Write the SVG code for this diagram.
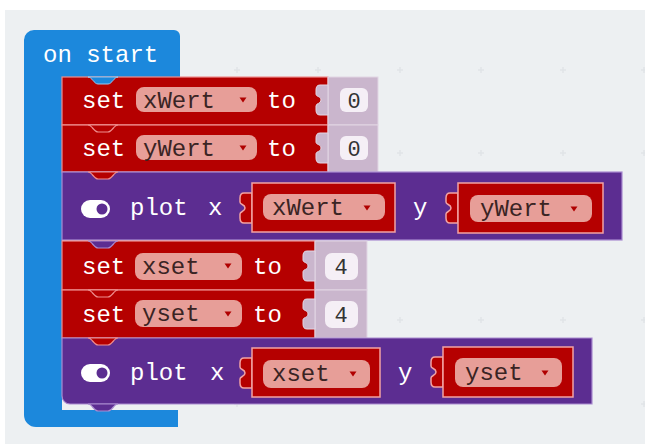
<svg xmlns="http://www.w3.org/2000/svg" width="645" height="444" viewBox="0 0 645 444">
<style>
.t{font-family:"Liberation Mono","DejaVu Sans Mono",monospace;font-size:24px;fill:#ffffff}
.d{font-family:"Liberation Mono","DejaVu Sans Mono",monospace;font-size:24px;fill:#3a2424}
.n{font-family:"Liberation Mono","DejaVu Sans Mono",monospace;font-size:22px;fill:#333333;text-anchor:middle}
.red{fill:#b50000;stroke:#ef8f8f;stroke-width:1.2}
.pur{fill:#5c2d91;stroke:#a98bd0;stroke-width:1.2}
.lav{fill:#cab6cd;stroke:#e2d6e4;stroke-width:1}
.fld{fill:#f5eff6}
.pill{fill:#e79e98}
.slot{fill:#b50000;stroke:#f2a3a3;stroke-width:1.5}
.tri{fill:#b00000}
.cross{stroke:#e0e4e7;stroke-width:1.5}
</style>
<defs>
<path id="tab" d="M0,0 h-8 c-3,0 -4,2 -4,5 v4 c0,3 5,2 5,6 s-5,3 -5,6 v4 c0,3 1,5 4,5 h8 z"/>
<path id="notch" d="M0,0 c4,0 6,7 10,7 h10 c4,0 6,-7 10,-7 z"/>
<path id="tr" d="M-3.5,-2.5 h7 l-3.5,5 z"/>
<g id="cr"><line x1="-3" y1="0" x2="3" y2="0"/><line x1="0" y1="-3" x2="0" y2="3"/></g>
</defs>
<rect x="5" y="10" width="640" height="434" fill="#edf0f2"/>
<g class="cross">
<use href="#cr" x="237" y="70"/><use href="#cr" x="318" y="70"/><use href="#cr" x="400" y="70"/><use href="#cr" x="481" y="70"/><use href="#cr" x="563" y="70"/><use href="#cr" x="644" y="70"/>
<use href="#cr" x="400" y="153"/><use href="#cr" x="481" y="153"/><use href="#cr" x="563" y="153"/><use href="#cr" x="644" y="153"/>
<use href="#cr" x="400" y="320"/><use href="#cr" x="481" y="320"/><use href="#cr" x="563" y="320"/><use href="#cr" x="644" y="320"/>
<use href="#cr" x="237" y="404"/><use href="#cr" x="644" y="404"/>
</g>
<g id="onstart">
<path d="M24,40 a10,10 0 0 1 10,-10 H174 a6,6 0 0 1 6,6 V77 H62 V410 H178 V427 H36 a12,12 0 0 1 -12,-12 Z" fill="#1c88dc"/>
<text class="t" x="43" y="62">on start</text>
</g>
<g id="setxWert">
<rect class="red" x="62" y="77" width="266" height="48"/>
<rect class="lav" x="328" y="77" width="50" height="48"/>
<use href="#tab" x="328" y="85" class="lav"/>
<rect class="fld" x="340" y="88" width="28" height="24" rx="6"/>
<text class="n" x="354" y="108">0</text>
<text class="t" x="82" y="108">set</text>
<rect class="pill" x="136" y="87" width="121" height="25" rx="8"/>
<text class="d" x="143" y="108">xWert</text>
<use href="#tr" class="tri" x="243" y="100"/>
<text class="t" x="267" y="108">to</text>
</g>
<g id="setyWert">
<rect class="red" x="62" y="125" width="266" height="47"/>
<rect class="lav" x="328" y="125" width="50" height="47"/>
<use href="#tab" x="328" y="133" class="lav"/>
<rect class="fld" x="340" y="136" width="28" height="24" rx="6"/>
<text class="n" x="354" y="156">0</text>
<text class="t" x="82" y="156">set</text>
<rect class="pill" x="136" y="135" width="121" height="25" rx="8"/>
<text class="d" x="143" y="156">yWert</text>
<use href="#tr" class="tri" x="243" y="148"/>
<text class="t" x="267" y="156">to</text>
</g>
<g id="plot1">
<rect class="pur" x="62" y="172" width="560" height="68"/>
<rect x="81" y="200" width="29" height="18" rx="9" fill="#ffffff"/>
<circle cx="102" cy="209" r="5.5" fill="#5c2d91"/>
<text class="t" x="130" y="215">plot</text>
<text class="t" x="208" y="215">x</text>
<use href="#tab" x="252" y="193" class="slot"/>
<rect class="slot" x="252" y="183" width="143" height="49"/>
<rect class="pill" x="263" y="194" width="122" height="26" rx="8"/>
<text class="d" x="272" y="215">xWert</text>
<use href="#tr" class="tri" x="367" y="208"/>
<text class="t" x="413" y="215">y</text>
<use href="#tab" x="458" y="193" class="slot"/>
<rect class="slot" x="458" y="183" width="145" height="50"/>
<rect class="pill" x="470" y="195" width="122" height="27" rx="8"/>
<text class="d" x="480" y="216">yWert</text>
<use href="#tr" class="tri" x="574" y="209"/>
</g>
<g id="setxset">
<rect class="red" x="62" y="241" width="253" height="49"/>
<rect class="lav" x="315" y="241" width="52" height="49"/>
<use href="#tab" x="315" y="251" class="lav"/>
<rect class="fld" x="325" y="253" width="33" height="27" rx="7"/>
<text class="n" x="341" y="274">4</text>
<text class="t" x="82" y="274">set</text>
<rect class="pill" x="135" y="253" width="107" height="27" rx="8"/>
<text class="d" x="142" y="274">xset</text>
<use href="#tr" class="tri" x="228" y="266"/>
<text class="t" x="253" y="274">to</text>
</g>
<g id="setyset">
<rect class="red" x="62" y="290" width="253" height="48"/>
<rect class="lav" x="315" y="290" width="52" height="48"/>
<use href="#tab" x="315" y="299" class="lav"/>
<rect class="fld" x="325" y="301" width="33" height="27" rx="7"/>
<text class="n" x="341" y="322">4</text>
<text class="t" x="82" y="322">set</text>
<rect class="pill" x="135" y="300" width="107" height="27" rx="8"/>
<text class="d" x="142" y="321">yset</text>
<use href="#tr" class="tri" x="228" y="314"/>
<text class="t" x="253" y="322">to</text>
</g>
<g id="plot2">
<path class="pur" d="M62,338 H592 V404 H70 a8,8 0 0 1 -8,-8 Z"/>
<rect x="81" y="364" width="29" height="18" rx="9" fill="#ffffff"/>
<circle cx="102" cy="373" r="5.5" fill="#5c2d91"/>
<text class="t" x="130" y="380">plot</text>
<text class="t" x="210" y="380">x</text>
<use href="#tab" x="252" y="358" class="slot"/>
<rect class="slot" x="252" y="348" width="128" height="49"/>
<rect class="pill" x="263" y="360" width="107" height="28" rx="8"/>
<text class="d" x="272" y="381">xset</text>
<use href="#tr" class="tri" x="353" y="374"/>
<text class="t" x="398" y="380">y</text>
<use href="#tab" x="443" y="357" class="slot"/>
<rect class="slot" x="443" y="347" width="130" height="50"/>
<rect class="pill" x="455" y="358" width="107" height="29" rx="8"/>
<text class="d" x="465" y="380">yset</text>
<use href="#tr" class="tri" x="545" y="373"/>
</g>
<g id="connectors">
<use href="#notch" x="88" y="77" fill="#1c88dc" stroke="#9cc8ee" stroke-width="1"/>
<use href="#notch" x="88" y="125" class="red"/>
<use href="#notch" x="88" y="172" class="red"/>
<use href="#notch" x="88" y="241" class="pur"/>
<use href="#notch" x="88" y="290" class="red"/>
<use href="#notch" x="88" y="338" class="red"/>
<use href="#notch" x="88" y="404" class="pur"/>
</g>
</svg>
